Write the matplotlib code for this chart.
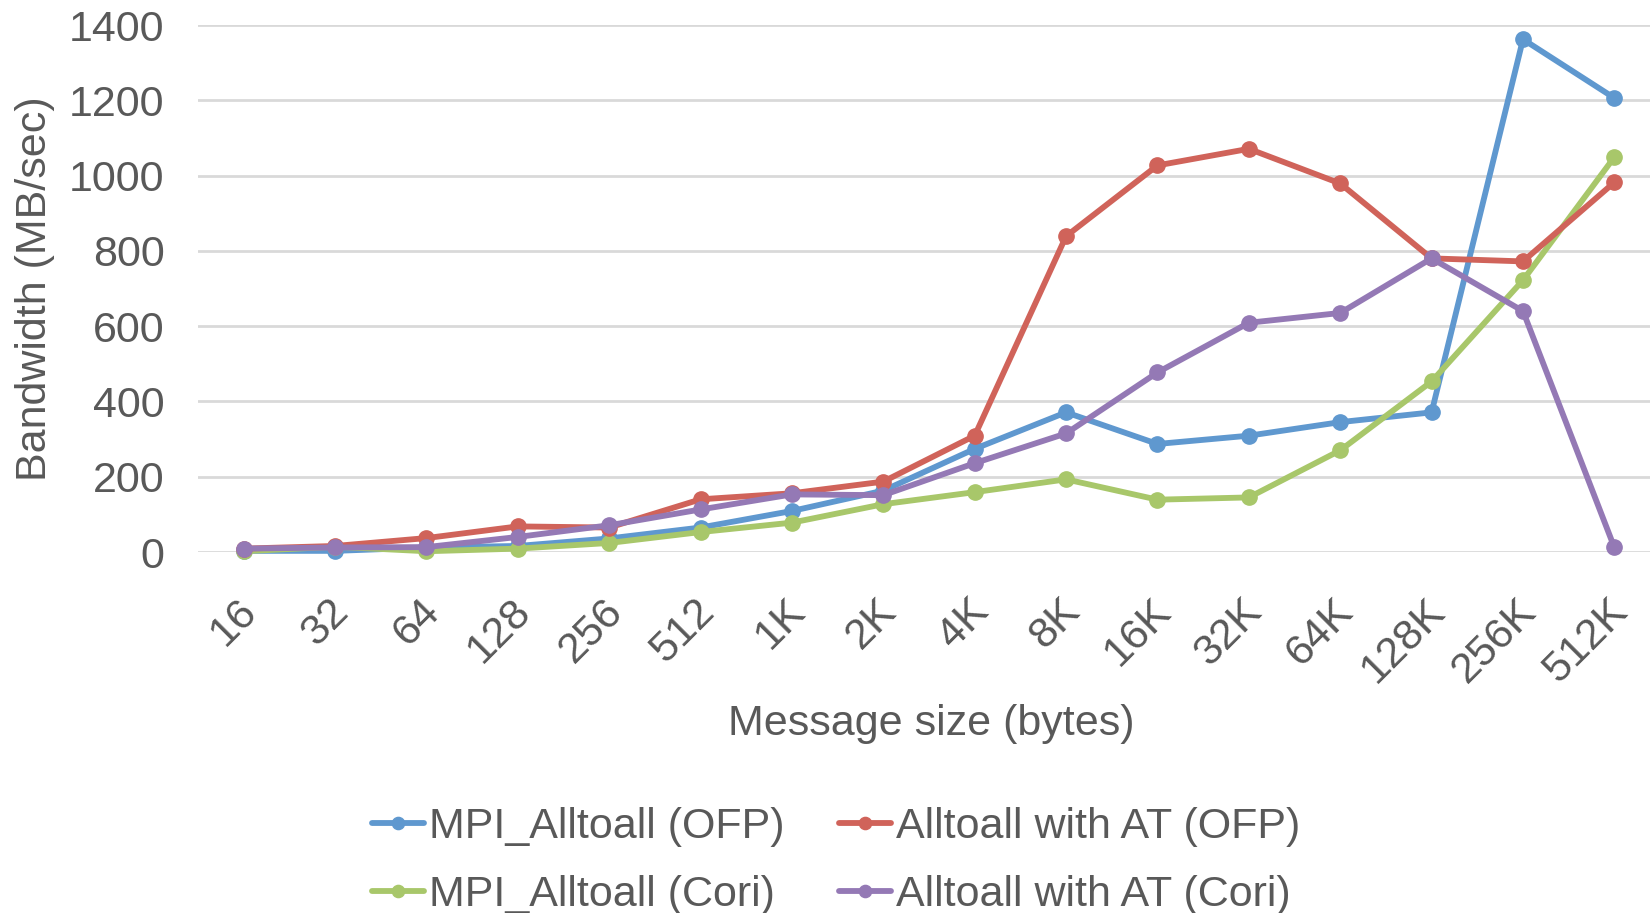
import matplotlib
matplotlib.use("Agg")
import matplotlib.pyplot as plt
from matplotlib.transforms import ScaledTranslation

categories = ["16", "32", "64", "128", "256", "512", "1K", "2K", "4K", "8K",
              "16K", "32K", "64K", "128K", "256K", "512K"]
mpi_ofp = [3, 3, 12, 16, 36, 65, 109, 163, 274, 371, 287, 309, 345, 371, 1362, 1206]
at_ofp = [9, 16, 37, 68, 65, 140, 156, 187, 309, 839, 1027, 1071, 979, 780, 772, 982]
mpi_cori = [2, 14, 2, 9, 24, 53, 78, 127, 159, 193, 139, 145, 270, 453, 722, 1049]
at_cori = [9, 12, 13, 40, 71, 113, 153, 151, 236, 315, 477, 609, 635, 780, 640, 12]

series = [
    ("MPI_Alltoall (OFP)", mpi_ofp, "#5f98cf"),
    ("MPI_Alltoall (Cori)", mpi_cori, "#a8c76a"),
    ("Alltoall with AT (OFP)", at_ofp, "#d0635a"),
    ("Alltoall with AT (Cori)", at_cori, "#9479b5"),
]
draw_order = [0, 2, 1, 3]

plt.rcParams['font.family'] = ['Liberation Sans', 'DejaVu Sans']
text_color = "#595959"
FS = 31

fig = plt.figure(figsize=(16.5, 9.13), dpi=100)
ax = fig.add_axes([198/1650, 1 - 552/913, 1 - 198/1650, (552 - 25)/913])

x = list(range(len(categories)))
handles = {}
for i in draw_order:
    label, vals, color = series[i]
    h, = ax.plot(x, vals, color=color, lw=4.2, marker='o', markersize=11,
                 label=label, solid_capstyle='round', clip_on=False, zorder=3 + i)
    handles[i] = h

ax.set_ylim(0, 1400)
ax.set_xlim(-0.5, 15.39)
ax.set_yticks(range(0, 1401, 200))
ax.yaxis.grid(True, color="#d9d9d9", lw=2)
ax.set_axisbelow(True)
for s in ax.spines.values():
    s.set_visible(False)
ax.tick_params(axis='both', length=0, labelsize=FS, colors=text_color)
ax.tick_params(axis='y', pad=24)
ax.set_xticks(x)
ax.set_xticklabels(categories, rotation=45, ha='right', va='top',
                   rotation_mode='anchor')
ax.tick_params(axis='x', pad=28)
shift = ScaledTranslation(-7/100, 0, fig.dpi_scale_trans)
for lab in ax.get_xticklabels():
    lab.set_transform(lab.get_transform() + shift)

ax.set_ylabel("Bandwidth (MB/sec)", fontsize=FS, color=text_color, labelpad=10)
fig.text(931/1650, 1 - 724/913, "Message size (bytes)", fontsize=FS,
         color=text_color, ha='center', va='center')

leg = fig.legend([handles[0], handles[1], handles[2], handles[3]],
                 [series[0][0], series[1][0], series[2][0], series[3][0]],
                 ncol=2, loc='center', bbox_to_anchor=(836/1650, 1 - 861/913),
                 frameon=False, fontsize=FS, handlelength=1.22,
                 handletextpad=0.12, columnspacing=1.25, labelspacing=0.67,
                 markerscale=0.8)
for t in leg.get_texts():
    t.set_color(text_color)

fig.savefig("out.png", dpi=100)
